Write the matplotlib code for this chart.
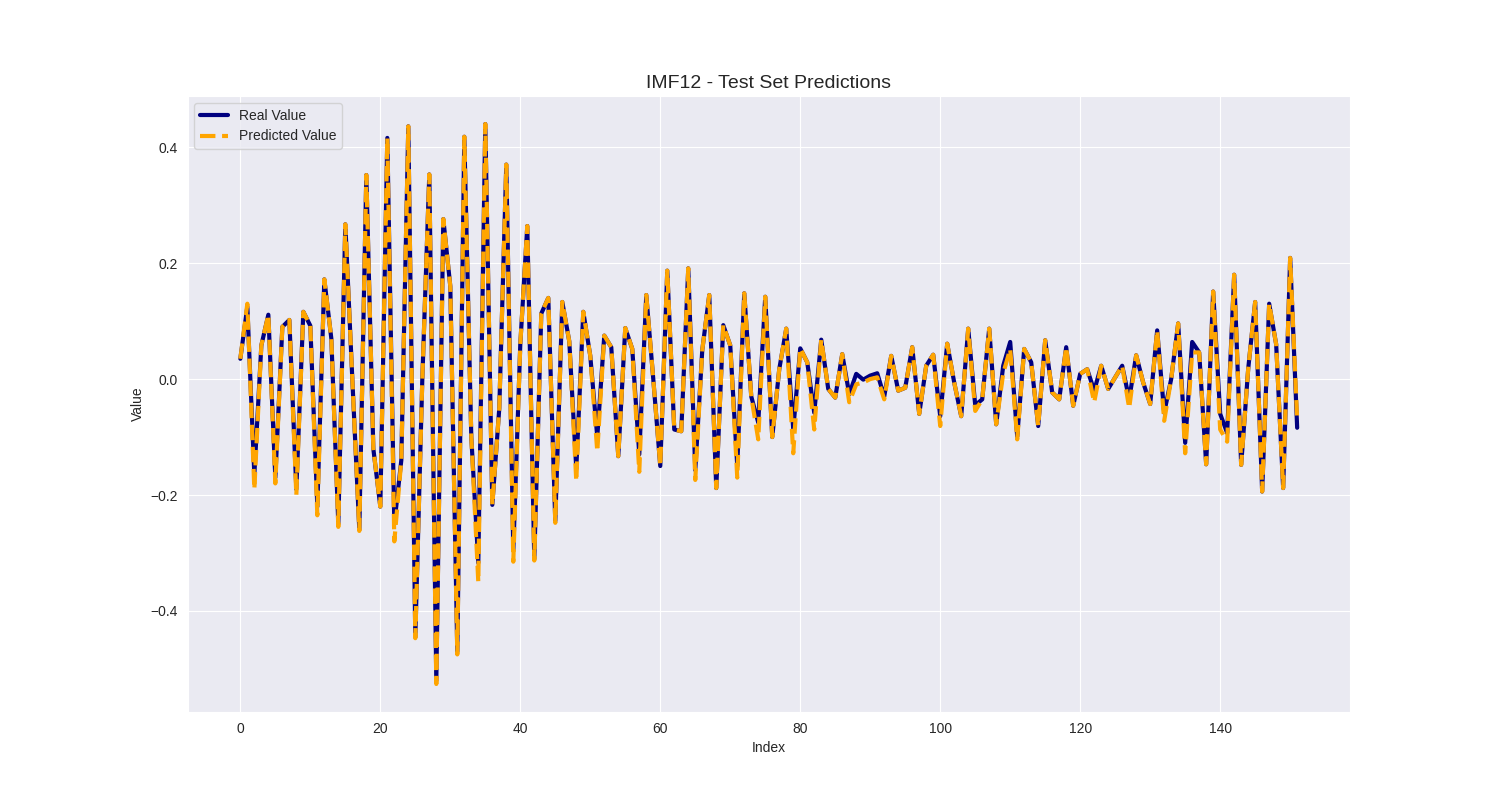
import matplotlib
matplotlib.use("Agg")
import matplotlib.pyplot as plt
import seaborn as sns

# ____________________________________________________________________________
# Data

real_value = [
    0.035, 0.125, -0.165, 0.058, 0.111, -0.170, 0.090, 0.102, -0.190, 0.116,
    0.092, -0.220, 0.172, 0.070, -0.250, 0.267, 0.000, -0.260, 0.352, -0.120,
    -0.220, 0.416, -0.250, -0.140, 0.436, -0.445, 0.000, 0.353, -0.520, 0.276,
    0.160, -0.470, 0.418, -0.100, -0.317, 0.440, -0.217, -0.050, 0.370, -0.296,
    0.060, 0.264, -0.310, 0.113, 0.140, -0.245, 0.133, 0.065, -0.155, 0.116,
    0.040, -0.100, 0.075, 0.055, -0.133, 0.088, 0.052, -0.130, 0.145, 0.000,
    -0.150, 0.187, -0.087, -0.090, 0.191, -0.157, 0.050, 0.145, -0.188, 0.093,
    0.058, -0.150, 0.148, -0.030, -0.075, 0.142, -0.100, 0.017, 0.087, -0.087,
    0.053, 0.029, -0.058, 0.068, -0.017, -0.032, 0.043, -0.026, 0.009, -0.001,
    0.006, 0.010, -0.030, 0.040, -0.020, -0.015, 0.055, -0.060, 0.023, 0.042,
    -0.064, 0.061, -0.006, -0.064, 0.087, -0.045, -0.035, 0.087, -0.078, 0.023,
    0.064, -0.099, 0.052, 0.029, -0.081, 0.067, -0.023, -0.035, 0.055, -0.046,
    0.009, 0.017, -0.020, 0.023, -0.017, 0.003, 0.023, -0.035, 0.041, -0.006,
    -0.043, 0.084, -0.058, 0.000, 0.096, -0.110, 0.064, 0.046, -0.147, 0.151,
    -0.060, -0.093, 0.180, -0.148, 0.017, 0.133, -0.194, 0.130, 0.060, -0.188,
    0.209, -0.084,
]

predicted_value = [
    0.035, 0.130, -0.190, 0.058, 0.111, -0.180, 0.090, 0.102, -0.200, 0.116,
    0.092, -0.235, 0.172, 0.070, -0.255, 0.267, 0.000, -0.262, 0.352, -0.120,
    -0.220, 0.416, -0.280, -0.140, 0.436, -0.447, 0.000, 0.353, -0.526, 0.276,
    0.160, -0.475, 0.418, -0.100, -0.350, 0.440, -0.217, -0.050, 0.370, -0.315,
    0.060, 0.264, -0.313, 0.113, 0.140, -0.248, 0.133, 0.065, -0.176, 0.116,
    0.040, -0.125, 0.075, 0.055, -0.133, 0.088, 0.052, -0.160, 0.145, 0.000,
    -0.150, 0.187, -0.087, -0.090, 0.191, -0.174, 0.050, 0.145, -0.188, 0.093,
    0.058, -0.170, 0.148, -0.030, -0.104, 0.142, -0.100, 0.017, 0.087, -0.128,
    0.053, 0.029, -0.087, 0.068, -0.017, -0.032, 0.043, -0.040, -0.009, -0.006,
    0.000, 0.003, -0.035, 0.040, -0.020, -0.015, 0.055, -0.060, 0.023, 0.042,
    -0.081, 0.061, -0.006, -0.064, 0.087, -0.055, -0.035, 0.087, -0.078, 0.010,
    0.052, -0.104, 0.052, 0.029, -0.081, 0.067, -0.023, -0.035, 0.055, -0.046,
    0.009, 0.017, -0.040, 0.023, -0.017, 0.003, 0.023, -0.050, 0.041, -0.006,
    -0.043, 0.084, -0.072, 0.000, 0.096, -0.128, 0.046, 0.046, -0.147, 0.151,
    -0.087, -0.108, 0.180, -0.148, 0.017, 0.133, -0.194, 0.130, 0.060, -0.188,
    0.209, -0.070,
]

index = list(range(len(real_value)))

# ____________________________________________________________________________
# Plot

sns.set_style("darkgrid")
# Arial is not installed, Liberation Sans has the same metrics
plt.rcParams["font.family"] = ["Liberation Sans", "DejaVu Sans"]

fig, ax = plt.subplots(figsize=(15, 8), dpi=100)
ax.plot(index, real_value, color="navy", linewidth=3, label="Real Value")
ax.plot(index, predicted_value, color="orange", linewidth=3, linestyle="--", label="Predicted Value")

ax.set_title("IMF12 - Test Set Predictions", fontsize=14)
ax.set_xlabel("Index")
ax.set_ylabel("Value")
ax.legend(loc="upper left")

fig.savefig("out.png", dpi=100)
